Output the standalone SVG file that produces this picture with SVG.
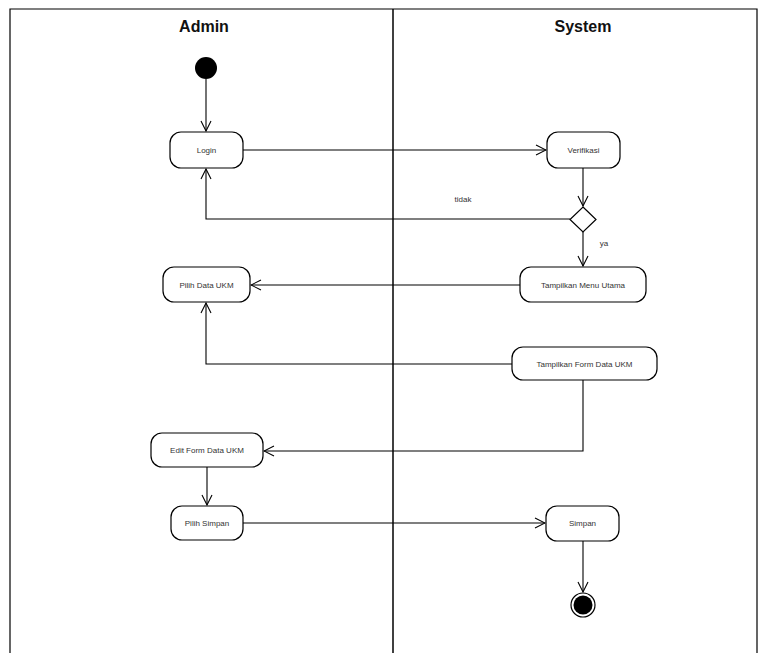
<svg xmlns="http://www.w3.org/2000/svg" width="766" height="653" viewBox="0 0 766 653">
<style>
.node rect{fill:#fff;stroke:#000;stroke-width:1.2}
.lbl{font-family:"Liberation Sans",Arial,sans-serif;font-size:8px;fill:#333;text-anchor:middle}
.hdr{font-family:"Liberation Sans",Arial,sans-serif;font-size:16px;font-weight:bold;fill:#111;text-anchor:middle}
.edge{fill:none;stroke:#000;stroke-width:1.1}
</style>
<defs>
<marker id="arr" viewBox="0 0 12 12" refX="11" refY="6" markerWidth="12" markerHeight="12" markerUnits="userSpaceOnUse" orient="auto">
<polyline points="1,1 11,6 1,11" fill="none" stroke="#000" stroke-width="1.1"/>
</marker>
</defs>
<rect x="0" y="0" width="766" height="653" fill="#fff"/>
<g id="swimlanes">
<path d="M10,660 V9 H757 V660" fill="none" stroke="#000" stroke-width="1.2"/>
<line x1="393" y1="9" x2="393" y2="660" stroke="#000" stroke-width="1.5"/>
<text class="hdr" x="204" y="32">Admin</text>
<text class="hdr" x="583" y="32">System</text>
</g>
<g id="connectors">
<line class="edge" x1="206" y1="79" x2="206" y2="131" marker-end="url(#arr)"/>
<line class="edge" x1="243" y1="150" x2="546" y2="150" marker-end="url(#arr)"/>
<line class="edge" x1="583" y1="168" x2="583" y2="206" marker-end="url(#arr)"/>
<polyline class="edge" points="570,219 206,219 206,169" marker-end="url(#arr)"/>
<text class="lbl" x="463" y="202">tidak</text>
<line class="edge" x1="583" y1="232" x2="583" y2="266" marker-end="url(#arr)"/>
<text class="lbl" x="604" y="246">ya</text>
<line class="edge" x1="520" y1="285" x2="251" y2="285" marker-end="url(#arr)"/>
<polyline class="edge" points="512,364 206,364 206,303" marker-end="url(#arr)"/>
<polyline class="edge" points="583,380 583,451 264,451" marker-end="url(#arr)"/>
<line class="edge" x1="207" y1="467" x2="207" y2="505" marker-end="url(#arr)"/>
<line class="edge" x1="243" y1="523" x2="545" y2="523" marker-end="url(#arr)"/>
<line class="edge" x1="583" y1="541" x2="583" y2="592" marker-end="url(#arr)"/>
</g>
<g id="start"><circle cx="206" cy="68" r="11" fill="#000"/></g>
<g id="login" class="node"><rect x="170" y="132" width="73" height="36" rx="11"/><text class="lbl" x="206.5" y="153">Login</text></g>
<g id="verifikasi" class="node"><rect x="547" y="132" width="73" height="36" rx="11"/><text class="lbl" x="583.5" y="153">Verifikasi</text></g>
<g id="decision"><polygon points="583,207 596,219.5 583,232 570,219.5" fill="#fff" stroke="#000" stroke-width="1.2"/></g>
<g id="menu-utama" class="node"><rect x="520" y="267" width="126" height="35" rx="11"/><text class="lbl" x="583" y="287.5">Tampilkan Menu Utama</text></g>
<g id="pilih-data" class="node"><rect x="163" y="267" width="87" height="35" rx="11"/><text class="lbl" x="206.5" y="287.5">Pilih Data UKM</text></g>
<g id="form-data" class="node"><rect x="512" y="347" width="145" height="33" rx="11"/><text class="lbl" x="584.5" y="366.5">Tampilkan Form Data UKM</text></g>
<g id="edit-form" class="node"><rect x="151" y="433" width="112" height="34" rx="11"/><text class="lbl" x="207" y="453">Edit Form Data UKM</text></g>
<g id="pilih-simpan" class="node"><rect x="171" y="506" width="72" height="34" rx="11"/><text class="lbl" x="207" y="526">Pilih Simpan</text></g>
<g id="simpan" class="node"><rect x="546" y="506" width="73" height="35" rx="11"/><text class="lbl" x="582.5" y="526">Simpan</text></g>
<g id="end"><circle cx="583" cy="605" r="12" fill="#fff" stroke="#000" stroke-width="1.2"/><circle cx="583" cy="605" r="9.5" fill="#000"/></g>
</svg>
